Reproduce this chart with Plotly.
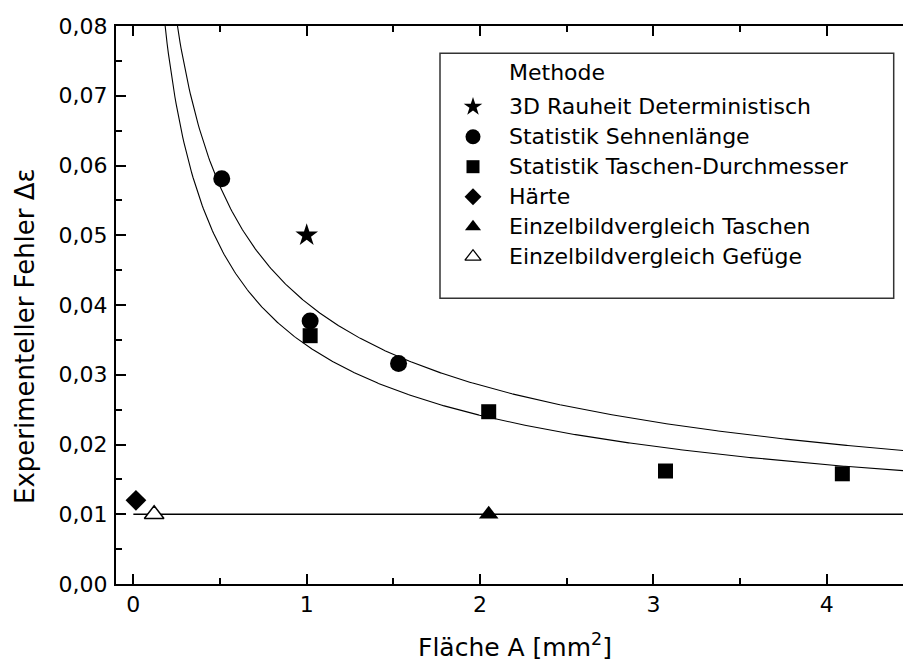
import numpy as np
import plotly.graph_objects as go

# Measured error per method (area A in mm², error Δε)
star_x = [1.0]
star_y = [0.050]
sehne_x = [0.51, 1.02, 1.53]
sehne_y = [0.0581, 0.0377, 0.0316]
taschen_d_x = [1.02, 2.05, 3.07, 4.09]
taschen_d_y = [0.0356, 0.0247, 0.0162, 0.0158]
haerte_x = [0.015]
haerte_y = [0.012]
ebv_taschen_x = [2.05]
ebv_taschen_y = [0.010]
ebv_gefuege_x = [0.12]
ebv_gefuege_y = [0.010]

# Envelope curves Δε = k / sqrt(A) and lower limit of the method
k_upper = 0.0403
k_lower = 0.0342
limit_y = 0.010
limit_x = [0.0, 4.6]

series_names = [
    "3D Rauheit Deterministisch",
    "Statistik Sehnenlänge",
    "Statistik Taschen-Durchmesser",
    "Härte",
    "Einzelbildvergleich Taschen",
    "Einzelbildvergleich Gefüge",
]

FONT = "DejaVu Sans"
W, H = 903, 662
ML, MR, MT, MB = 116, 0, 26, 78
PW, PH = W - ML - MR, H - MT - MB


def px_x(p):
    return (p - ML) / PW


def px_y(p):
    return (H - MB - p) / PH


fig = go.Figure()

a_curve = np.linspace(0.12, 4.6, 600)
for k in (k_upper, k_lower):
    fig.add_trace(go.Scatter(x=a_curve, y=k / np.sqrt(a_curve), mode="lines",
                             line=dict(color="black", width=1.1),
                             showlegend=False, hoverinfo="skip"))
fig.add_trace(go.Scatter(x=limit_x, y=[limit_y, limit_y], mode="lines",
                         line=dict(color="black", width=1.3),
                         showlegend=False, hoverinfo="skip"))

# symbol, size on plot, size in key, fill
styles = [
    ("star", 17, 14, "black"),
    ("circle", 17, 15, "black"),
    ("square", 15, 13, "black"),
    ("diamond", 16, 13, "black"),
    ("triangle-up", 17, 14, "black"),
    ("triangle-up", 17, 14, "white"),
]
data = [
    (star_x, star_y),
    (sehne_x, sehne_y),
    (taschen_d_x, taschen_d_y),
    (haerte_x, haerte_y),
    (ebv_taschen_x, ebv_taschen_y),
    (ebv_gefuege_x, ebv_gefuege_y),
]
for name, (xs, ys), (sym, size, _, fill) in zip(series_names, data, styles):
    fig.add_trace(go.Scatter(
        x=xs, y=ys, mode="markers", name=name, showlegend=False,
        marker=dict(symbol=sym, size=size, color=fill,
                    line=dict(color="black", width=1.5 if fill == "white" else 0)),
        cliponaxis=False,
    ))

# Key: a pixel-space overlay axis pair holds the key symbols
KEY_SYM_X = 473
KEY_TEXT_X = 507
KEY_Y0, KEY_DY = 106.7, 30.0
for i, (name, (sym, _, ksize, fill)) in enumerate(zip(series_names, styles)):
    ky = KEY_Y0 + i * KEY_DY
    fig.add_trace(go.Scatter(
        x=[KEY_SYM_X], y=[ky], mode="markers", xaxis="x2", yaxis="y2",
        showlegend=False, hoverinfo="skip", cliponaxis=False,
        marker=dict(symbol=sym, size=ksize, color=fill,
                    line=dict(color="black", width=1.3 if fill == "white" else 0)),
    ))
    fig.add_annotation(xref="paper", yref="paper", showarrow=False,
                       text=name, x=px_x(KEY_TEXT_X), y=px_y(ky),
                       xanchor="left", yanchor="middle",
                       font=dict(family=FONT, size=22, color="black"))

axis_common = dict(
    showline=True, linecolor="black", linewidth=2,
    ticks="inside", ticklen=10, tickwidth=2, tickcolor="black",
    showgrid=False, zeroline=False,
    tickfont=dict(family=FONT, size=22, color="black"),
)

fig.update_xaxes(range=[-0.1, -0.1 + PW / 173.35], tickvals=[0, 1, 2, 3, 4],
                 mirror="ticks",
                 minor=dict(tickvals=[0.5, 1.5, 2.5, 3.5], ticks="inside",
                            ticklen=6, tickwidth=2, tickcolor="black"),
                 **axis_common)
fig.update_yaxes(range=[0, 0.08], dtick=0.01, tickformat=".2f",
                 ticklabelstandoff=2,
                 minor=dict(dtick=0.005, ticks="inside", ticklen=6,
                            tickwidth=2, tickcolor="black"),
                 **axis_common)

# Key frame and heading
fig.add_shape(type="rect", xref="paper", yref="paper",
              x0=px_x(440), x1=px_x(893.7), y0=px_y(298.3), y1=px_y(53.3),
              line=dict(color="#333333", width=1.5), fillcolor="white", layer="below")

annotations = [
    dict(text="Methode", x=px_x(507), y=px_y(73), xanchor="left", yanchor="middle",
         font=dict(family=FONT, size=22, color="black")),
    dict(text="Experimenteller Fehler Δε", x=px_x(25), y=px_y(336), textangle=-90,
         xanchor="center", yanchor="middle",
         font=dict(family=FONT, size=26, color="black")),
    dict(text="Fläche A [mm<sup>2</sup>]", x=px_x(514.7), y=px_y(645),
         xanchor="center", yanchor="middle",
         font=dict(family=FONT, size=25, color="black")),
]
for a in annotations:
    fig.add_annotation(xref="paper", yref="paper", showarrow=False, **a)

fig.update_layout(
    width=W, height=H,
    margin=dict(l=ML, r=MR, t=MT, b=MB, pad=0),
    paper_bgcolor="white", plot_bgcolor="white",
    separators=",.",
    font=dict(family=FONT, color="black"),
    showlegend=False,
    xaxis2=dict(overlaying="x", range=[ML, W - MR], visible=False, fixedrange=True),
    yaxis2=dict(overlaying="y", range=[H - MB, MT], visible=False, fixedrange=True),
)

fig.write_html("out.html")
